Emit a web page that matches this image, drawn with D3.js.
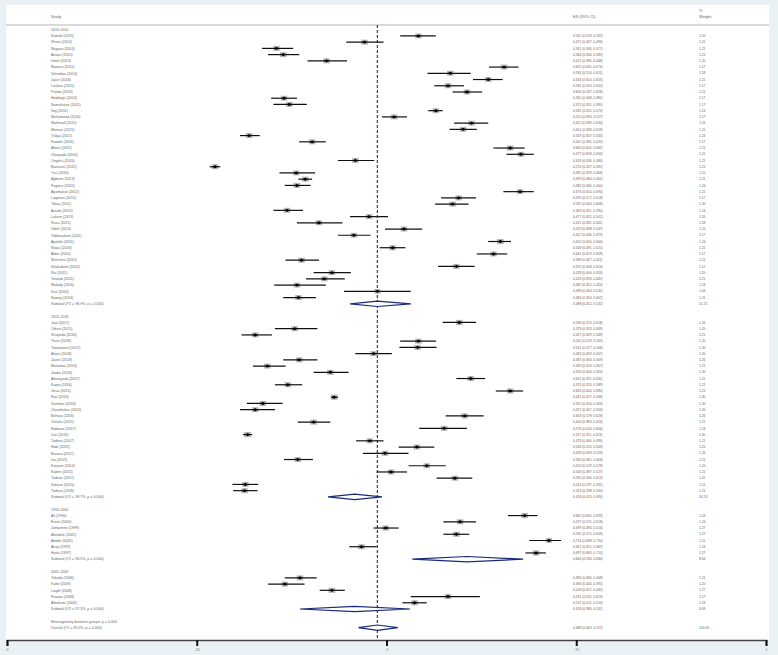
<!DOCTYPE html>
<html><head><meta charset="utf-8">
<script src="https://cdn.jsdelivr.net/npm/d3@7"></script>
<style>body{margin:0;background:#e9f1f4} svg{display:block}</style>
</head><body><svg id="c" width="778" height="655"></svg>
<script>
// ---------- DATA ----------
const groupLabels = ["2010-2014", "2015-2018", "1990-2000", "2001-2009"];

const g1Names = ["Kaleab (2013)","Sharu (2014)","Negasa (2014)","Ansari (2015)","Islam (2013)","Nowara (2011)","Vahedian (2014)","Jajuri (2016)","Lashari (2015)","Panda (2013)","Haddagh (2014)","Namaharoz (2011)","Ittig (2011)","Mahamood (2016)","Mahmud (2015)","Mamun (2015)","Yuliya (2015)","Fawole (2016)","Akinci (2011)","Olaoyade (2016)","Onyeku (2016)","Banasun (2012)","Yuu (2016)","Agbene (2013)","Fagoeu (2015)","Ayamakun (2012)","Loganza (2015)","Yibaa (2011)","Aoude (2015)","Lakure (2013)","Rusu (2015)","Udeh (2013)","Tabbarakani (2011)","Ayelele (2011)","Nawa (2016)","Aldor (2014)","Shrestha (2015)","Dhakabom (2014)","Rai (2011)","Yoseab (2011)","Mulady (2016)","Dev (2014)","Nawey (2014)"];
const g1ES = [0.542,0.471,0.355,0.364,0.421,0.655,0.584,0.634,0.581,0.606,0.365,0.372,0.565,0.510,0.612,0.601,0.319,0.402,0.663,0.677,0.459,0.274,0.381,0.393,0.382,0.676,0.595,0.587,0.369,0.477,0.411,0.523,0.457,0.650,0.508,0.641,0.388,0.592,0.428,0.418,0.382,0.488,0.384];
const g1Lo = [0.518,0.447,0.336,0.344,0.396,0.635,0.554,0.614,0.563,0.587,0.348,0.351,0.555,0.494,0.589,0.583,0.307,0.385,0.641,0.658,0.436,0.267,0.359,0.384,0.366,0.654,0.572,0.564,0.351,0.452,0.382,0.498,0.436,0.634,0.491,0.619,0.367,0.568,0.404,0.394,0.352,0.444,0.364];
const g1Hi = [0.565,0.496,0.377,0.385,0.448,0.674,0.611,0.653,0.602,0.626,0.382,0.395,0.574,0.527,0.634,0.619,0.333,0.420,0.682,0.694,0.484,0.281,0.406,0.402,0.400,0.694,0.618,0.608,0.390,0.502,0.442,0.547,0.479,0.664,0.525,0.659,0.411,0.616,0.453,0.445,0.420,0.532,0.407];
const g1W = [1.10,1.21,1.21,1.21,1.20,1.17,1.18,1.21,1.17,1.21,1.17,1.17,1.14,1.17,1.16,1.21,1.24,1.17,1.21,1.21,1.21,1.21,1.10,1.21,1.24,1.21,1.17,1.20,1.24,1.20,1.18,1.25,1.17,1.24,1.21,1.17,1.21,1.17,1.20,1.21,1.18,1.04,1.21];

const g2Names = ["Jaat (2017)","Oduro (2015)","Shapedo (2016)","Tsuro (2018)","Tamawanul (2017)","Akinu (2018)","Jaanu (2018)","Matuowo (2016)","Jaaba (2016)","Aburayeda (2017)","Kapoi (2016)","Jizuu (2015)","Rati (2016)","Demeke (2016)","Chandrakar (2015)","Bohara (2016)","Oshafu (2015)","Nabwoo (2017)","Lee (2016)","Tadesa (2017)","Habi (2015)","Basara (2017)","Isa (2015)","Kotaere (2014)","Kabire (2015)","Tadese (2017)","Vaknun (2015)","Tadesa (2018)"];
const g2ES = [0.596,0.379,0.327,0.542,0.541,0.483,0.385,0.343,0.426,0.611,0.370,0.663,0.431,0.337,0.327,0.603,0.404,0.576,0.317,0.478,0.540,0.498,0.383,0.553,0.506,0.590,0.314,0.313];
const g2Lo = [0.574,0.353,0.309,0.518,0.517,0.459,0.364,0.324,0.404,0.592,0.353,0.644,0.427,0.316,0.307,0.578,0.383,0.543,0.311,0.460,0.516,0.469,0.365,0.529,0.487,0.566,0.297,0.298];
const g2Hi = [0.618,0.409,0.349,0.565,0.566,0.507,0.409,0.367,0.450,0.630,0.389,0.680,0.436,0.363,0.353,0.628,0.426,0.606,0.323,0.496,0.563,0.529,0.403,0.578,0.527,0.613,0.331,0.330];
const g2W = [1.26,1.20,1.21,1.20,1.20,1.20,1.26,1.21,1.20,1.21,1.21,1.21,1.30,1.20,1.20,1.26,1.21,1.18,1.30,1.21,1.20,1.26,1.21,1.20,1.21,1.20,1.21,1.21];

const g3Names = ["Ali (1996)","Ennis (2000)","Jamjamen (1999)","Akindele (2001)","Abebe (2001)","Avoy (1999)","Hatta (1997)"];
const g3ES = [0.682,0.597,0.499,0.592,0.714,0.467,0.697];
const g3Lo = [0.660,0.575,0.483,0.575,0.688,0.451,0.683];
const g3Hi = [0.699,0.618,0.516,0.609,0.730,0.487,0.710];
const g3W = [1.24,1.24,1.27,1.27,1.11,1.24,1.27];

const g4Names = ["Takeda (2006)","Kubo (2009)","Liaybl (2008)","Futawu (2008)","Abraham (2005)"];
const g4ES = [0.386,0.366,0.428,0.581,0.537];
const g4Lo = [0.366,0.344,0.412,0.532,0.521];
const g4Hi = [0.408,0.392,0.445,0.623,0.553];
const g4W = [1.21,1.20,1.27,1.17,1.23];

const subES = [0.488,0.458,0.606,0.458];
const subLo = [0.452,0.423,0.534,0.386];
const subHi = [0.532,0.494,0.680,0.531];
const subW  = [51.15,34.13,8.64,6.08];
const subI2 = ["98.9%","98.7%","96.5%","97.3%"];

const overallES = 0.488, overallLo = 0.463, overallHi = 0.515, overallW = 100.00, overallI2 = "99.0%";
const hetText = "Heterogeneity between groups: p = 0.000";

const tickValues = [0, 0.25, 0.5, 0.75, 1];
const tickLabels = ["0", ".25", ".5", ".75", "1"];

// ---------- BUILD ROWS ----------
const groups = [
  {names:g1Names, es:g1ES, lo:g1Lo, hi:g1Hi, w:g1W},
  {names:g2Names, es:g2ES, lo:g2Lo, hi:g2Hi, w:g2W},
  {names:g3Names, es:g3ES, lo:g3Lo, hi:g3Hi, w:g3W},
  {names:g4Names, es:g4ES, lo:g4Lo, hi:g4Hi, w:g4W}
];
const rows = [];
let idx = 0;
groups.forEach((g, gi) => {
  rows.push({type:"header", i:idx++, label:groupLabels[gi]});
  g.names.forEach((n, k) => rows.push({type:"study", i:idx++, label:n, es:g.es[k], lo:g.lo[k], hi:g.hi[k], w:g.w[k]}));
  rows.push({type:"sub", i:idx++, label:"Subtotal  (I^2 = " + subI2[gi] + ", p = 0.000)", es:subES[gi], lo:subLo[gi], hi:subHi[gi], w:subW[gi]});
  idx++; // blank
});
rows.push({type:"het", i:idx++, label:hetText});
rows.push({type:"overall", i:idx++, label:"Overall  (I^2 = " + overallI2 + ", p = 0.000)", es:overallES, lo:overallLo, hi:overallHi, w:overallW});

// ---------- DRAW ----------
const W = 778, H = 655;
const svg = d3.select("#c");
svg.append("rect").attr("width", W).attr("height", H).attr("fill", "#e9f1f4");
svg.append("rect").attr("x", 6).attr("y", 5).attr("width", 763).attr("height", 635).attr("fill", "#fff");

const x = d3.scaleLinear().domain([0, 1]).range([7, 766]);
const y = d3.scaleLinear().domain([0, idx - 1]).range([29.7, 627.7]);
const font = "Liberation Sans, Arial, sans-serif";
const txtCol = "#666";
const xLabel = 51, xES = 573, xW = 699;

// header
const hdr = svg.append("g").attr("font-family", font).attr("fill", txtCol).attr("font-size", 4);
hdr.append("text").attr("x", xLabel).attr("y", 18).text("Study");
hdr.append("text").attr("x", xES).attr("y", 18).text("ES (95% CI)");
hdr.append("text").attr("x", xW).attr("y", 12).text("%");
hdr.append("text").attr("x", xW).attr("y", 18).text("Weight");
svg.append("line").attr("x1", 6).attr("x2", 769).attr("y1", 25).attr("y2", 25)
  .attr("stroke", "#b5b5b5").attr("stroke-width", 1);

// left labels
const fmt = d3.format(".3f");
const fmtW = d3.format(".2f");
const tg = svg.append("g").attr("font-family", font).attr("fill", txtCol).attr("font-size", 3.6);
tg.selectAll("text.lab").data(rows).join("text").attr("class", "lab")
  .attr("x", xLabel).attr("y", d => y(d.i)).attr("dy", "0.35em").text(d => d.label);
const withEs = rows.filter(d => d.es !== undefined);
tg.selectAll("text.es").data(withEs).join("text").attr("class", "es")
  .attr("font-size", 3.3)
  .attr("x", xES).attr("y", d => y(d.i)).attr("dy", "0.35em")
  .text(d => fmt(d.es) + " (" + fmt(d.lo) + ", " + fmt(d.hi) + ")");
tg.selectAll("text.w").data(withEs).join("text").attr("class", "w")
  .attr("font-size", 3.3)
  .attr("x", xW).attr("y", d => y(d.i)).attr("dy", "0.35em")
  .text(d => fmtW(d.w));

// reference (overall) dashed line
svg.append("line").attr("x1", x(overallES)).attr("x2", x(overallES)).attr("y1", 25).attr("y2", 640)
  .attr("stroke", "#8b2a35").attr("stroke-width", 1.3).attr("stroke-dasharray", "3,2");

// studies
const studies = rows.filter(d => d.type === "study");
const pg = svg.append("g");
const boxSide = w => 4.6 * Math.sqrt(w);
pg.selectAll("rect.box").data(studies).join("rect").attr("class", "box")
  .attr("x", d => x(d.es) - boxSide(d.w) * 0.65)
  .attr("y", d => y(d.i) - boxSide(d.w) / 2)
  .attr("width", d => boxSide(d.w) * 1.3)
  .attr("height", d => boxSide(d.w))
  .attr("fill", "#b8b8b8");
pg.selectAll("line.ci").data(studies).join("line").attr("class", "ci")
  .attr("x1", d => x(d.lo)).attr("x2", d => x(d.hi))
  .attr("y1", d => y(d.i)).attr("y2", d => y(d.i))
  .attr("stroke", "#111").attr("stroke-width", 1.2);
pg.selectAll("path.pt").data(studies).join("path").attr("class", "pt")
  .attr("d", d => {
    const cx = x(d.es), cy = y(d.i);
    return `M${cx-2.4},${cy} L${cx},${cy-1.7} L${cx+2.4},${cy} L${cx},${cy+1.7} Z`;
  })
  .attr("fill", "#000");

// diamonds
const dia = rows.filter(d => d.type === "sub" || d.type === "overall");
svg.append("g").selectAll("path").data(dia).join("path")
  .attr("d", d => {
    const cy = y(d.i), h = 2.7;
    return `M${x(d.lo)},${cy} L${x(d.es)},${cy-h} L${x(d.hi)},${cy} L${x(d.es)},${cy+h} Z`;
  })
  .attr("fill", "#fff").attr("stroke", "#1c2a7a").attr("stroke-width", 1.2);

// axis
const axis = d3.axisBottom(x).tickValues(tickValues).tickFormat((d, i) => tickLabels[i]).tickSize(6).tickPadding(2);
const ag = svg.append("g").attr("transform", "translate(0,640)").call(axis);
ag.select(".domain").attr("stroke", "#444").attr("stroke-width", 1.6);
ag.selectAll(".tick line").attr("stroke", "#111").attr("stroke-width", 2);
ag.selectAll(".tick text").attr("font-size", 3.6).attr("fill", "#777").attr("font-family", font);
</script>
</body></html>
